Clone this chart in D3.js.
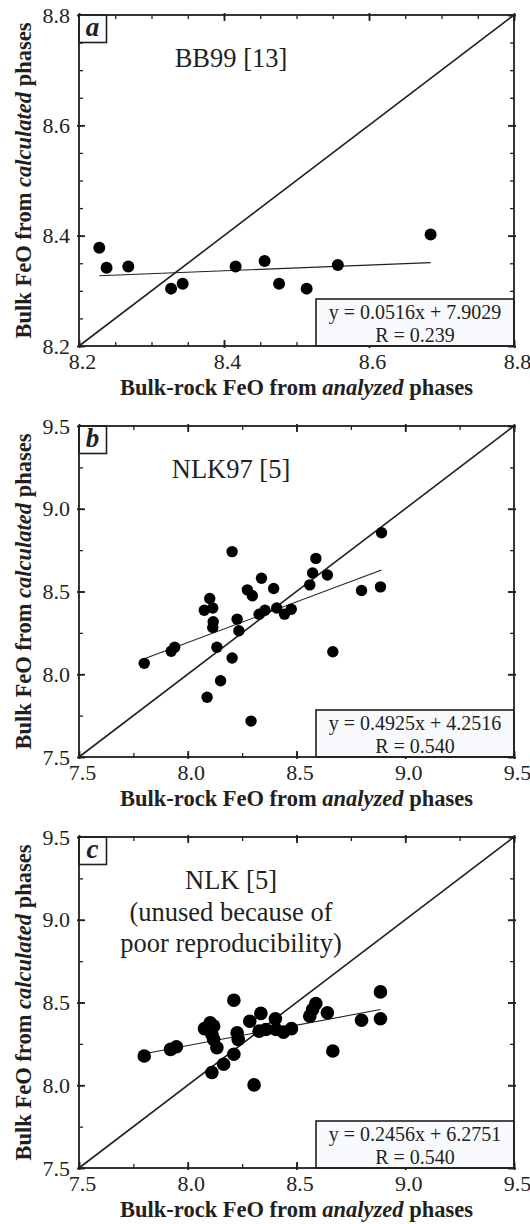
<!DOCTYPE html>
<html>
<head>
<meta charset="utf-8">
<script src="https://cdn.jsdelivr.net/npm/d3@7"></script>
<style>
  body { margin: 0; background: #fff; }
  svg text { font-family: "Liberation Serif", "Times New Roman", serif; fill: #231f20; }
</style>
</head>
<body>
<svg id="chart" width="530" height="1224"></svg>
<script>
// 資料：[analyzed, calculated]
const bb99Points = [
  [8.228, 8.378], [8.238, 8.342], [8.268, 8.344], [8.327, 8.304],
  [8.343, 8.313], [8.416, 8.344], [8.456, 8.354], [8.476, 8.313],
  [8.514, 8.304], [8.557, 8.347], [8.685, 8.402]
];
const nlk97Points = [
  [7.800, 8.066], [7.924, 8.139], [7.940, 8.163], [8.076, 8.387],
  [8.101, 8.458], [8.115, 8.400], [8.117, 8.317], [8.115, 8.283],
  [8.134, 8.163], [8.204, 8.741], [8.204, 8.098], [8.151, 7.961],
  [8.089, 7.861], [8.227, 8.333], [8.235, 8.263], [8.274, 8.510],
  [8.297, 8.474], [8.339, 8.580], [8.291, 7.717], [8.328, 8.363],
  [8.355, 8.387], [8.395, 8.518], [8.409, 8.400], [8.445, 8.363],
  [8.476, 8.393], [8.561, 8.540], [8.574, 8.612], [8.589, 8.700],
  [8.642, 8.600], [8.667, 8.136], [8.799, 8.506], [8.886, 8.528],
  [8.891, 8.855]
];
const nlkPoints = [
  [7.800, 8.177], [7.921, 8.217], [7.948, 8.233], [8.077, 8.342],
  [8.103, 8.378], [8.119, 8.357], [8.111, 8.307], [8.119, 8.277],
  [8.134, 8.227], [8.212, 8.514], [8.227, 8.317], [8.232, 8.277],
  [8.212, 8.187], [8.165, 8.127], [8.111, 8.077], [8.305, 8.002],
  [8.285, 8.387], [8.336, 8.434], [8.328, 8.327], [8.359, 8.337],
  [8.403, 8.402], [8.406, 8.337], [8.440, 8.321], [8.477, 8.342],
  [8.561, 8.418], [8.574, 8.458], [8.589, 8.494], [8.642, 8.438],
  [8.667, 8.207], [8.799, 8.393], [8.886, 8.402], [8.886, 8.564]
];

// 回歸係數
const fitSlopes = [0.0516, 0.4925, 0.2456];
const fitIntercepts = [7.9029, 4.2516, 6.2751];
const fitEquations = ["y = 0.0516x + 7.9029", "y = 0.4925x + 4.2516", "y = 0.2456x + 6.2751"];
const fitR = ["R = 0.239", "R = 0.540", "R = 0.540"];

// 軸刻度
const domainsAll = [[8.2, 8.8], [7.5, 9.5], [7.5, 9.5]];
const labelTicks = [[8.2, 8.4, 8.6, 8.8], [7.5, 8.0, 8.5, 9.0, 9.5], [7.5, 8.0, 8.5, 9.0, 9.5]];
const tickLabelText = [["8.2", "8.4", "8.6", "8.8"], ["7.5", "8.0", "8.5", "9.0", "9.5"], ["7.5", "8.0", "8.5", "9.0", "9.5"]];
const minorSteps = [0.05, 0.25, 0.25];

const panelLetters = ["a", "b", "c"];
const panelNotes = [["BB99 [13]"], ["NLK97 [5]"], ["NLK [5]", "(unused because of", "poor reproducibility)"]];

const ink = "#231f20";
const left = 79, right = 514, plotH = 331;
const panelTops = [15, 426, 837];
const dotRadius = [6, 5.7, 6.8];

const svg = d3.select("#chart");

[bb99Points, nlk97Points, nlkPoints].forEach((pts, i) => drawPanel(i, pts));

function drawPanel(i, pts) {
  const top = panelTops[i];
  const bottom = top + plotH;
  const dom = domainsAll[i];
  const x = d3.scaleLinear().domain(dom).range([left, right]);
  const y = d3.scaleLinear().domain(dom).range([bottom, top]);
  const g = svg.append("g");

  const minor = d3.range(dom[0], dom[1] + 1e-9, minorSteps[i]).map((v) => +v.toFixed(3));

  // 刻度（朝內）
  const tickAxes = [
    [d3.axisBottom(x), `translate(0,${bottom})`, -1],
    [d3.axisTop(x), `translate(0,${top})`, -1],
    [d3.axisLeft(y), `translate(${left},0)`, -1],
    [d3.axisRight(y), `translate(${right},0)`, -1]
  ];
  tickAxes.forEach(([ax, tr]) => {
    g.append("g")
      .attr("transform", tr)
      .call(ax.tickValues(minor).tickSize(-4).tickFormat(""))
      .call((s) => s.select(".domain").remove())
      .selectAll(".tick line")
      .attr("stroke", ink)
      .attr("stroke-width", 1.3);
    g.append("g")
      .attr("transform", tr)
      .call(ax.tickValues(labelTicks[i]).tickSize(-6).tickFormat(""))
      .call((s) => s.select(".domain").remove())
      .selectAll(".tick line")
      .attr("stroke", ink)
      .attr("stroke-width", 1.8)
      .each(function () {
        const l = d3.select(this);
        if (l.attr("y2") !== null) l.attr("y1", l.attr("y2") > 0 ? -2 : 2);
        else l.attr("x1", l.attr("x2") > 0 ? -2 : 2);
      });
  });

  // 刻度標籤
  const fmt = (v) => tickLabelText[i][labelTicks[i].indexOf(v)];
  g.append("g")
    .attr("transform", `translate(0,${bottom})`)
    .call(d3.axisBottom(x).tickValues(labelTicks[i]).tickSize(0).tickPadding(7).tickFormat(fmt))
    .call((s) => s.select(".domain").remove())
    .attr("font-family", null)
    .attr("font-size", 22)
    .selectAll("text")
    .attr("dx", 3);
  g.append("g")
    .attr("transform", `translate(${left},0)`)
    .call(d3.axisLeft(y).tickValues(labelTicks[i]).tickSize(0).tickPadding(9).tickFormat(fmt))
    .call((s) => s.select(".domain").remove())
    .attr("font-family", null)
    .attr("font-size", 22);

  // 1:1 線
  g.append("line")
    .attr("x1", x(dom[0])).attr("y1", y(dom[0]))
    .attr("x2", x(dom[1])).attr("y2", y(dom[1]))
    .attr("stroke", ink).attr("stroke-width", 1.6);

  // 回歸線
  const xExt = d3.extent(pts, (d) => d[0]);
  const fit = (v) => fitSlopes[i] * v + fitIntercepts[i];
  g.append("line")
    .attr("x1", x(xExt[0])).attr("y1", y(fit(xExt[0])))
    .attr("x2", x(xExt[1])).attr("y2", y(fit(xExt[1])))
    .attr("stroke", ink).attr("stroke-width", 1.1);

  // 資料點
  g.append("g")
    .selectAll("circle")
    .data(pts)
    .join("circle")
    .attr("cx", (d) => x(d[0]))
    .attr("cy", (d) => y(d[1]))
    .attr("r", dotRadius[i])
    .attr("fill", "#000");

  // 註解文字
  g.append("text")
    .attr("x", 231)
    .attr("y", top + 52)
    .attr("text-anchor", "middle")
    .attr("font-size", 26.5)
    .selectAll("tspan")
    .data(panelNotes[i])
    .join("tspan")
    .attr("x", 231)
    .attr("dy", (d, k) => (k === 0 ? 0 : 31.5))
    .text((d) => d);

  // 方程式框
  const boxW = 198, boxH = 47;
  g.append("rect")
    .attr("x", right - boxW).attr("y", bottom - boxH)
    .attr("width", boxW).attr("height", boxH)
    .attr("fill", "#f8fafd").attr("stroke", ink).attr("stroke-width", 1.6);
  g.append("text")
    .attr("x", right - boxW / 2).attr("y", bottom - boxH + 20)
    .attr("text-anchor", "middle").attr("font-size", 20)
    .text(fitEquations[i]);
  g.append("text")
    .attr("x", right - boxW / 2).attr("y", bottom - boxH + 43)
    .attr("text-anchor", "middle").attr("font-size", 20)
    .text(fitR[i]);

  // 面板字母
  g.append("rect")
    .attr("x", left).attr("y", top)
    .attr("width", 27.5).attr("height", 27.5)
    .attr("fill", "#fbfcfe").attr("stroke", ink).attr("stroke-width", 1.6);
  g.append("text")
    .attr("x", left + 13.5).attr("y", top + 21)
    .attr("text-anchor", "middle")
    .attr("font-size", 27).attr("font-weight", "bold").attr("font-style", "italic")
    .text(panelLetters[i]);

  // 外框
  g.append("rect")
    .attr("x", left).attr("y", top)
    .attr("width", right - left).attr("height", plotH)
    .attr("fill", "none").attr("stroke", ink).attr("stroke-width", 1.8);

  // 軸標題
  const xt = g.append("text")
    .attr("x", (left + right) / 2).attr("y", bottom + 49)
    .attr("text-anchor", "middle").attr("font-size", 22.5).attr("font-weight", "bold");
  xt.append("tspan").text("Bulk-rock FeO from ");
  xt.append("tspan").attr("font-style", "italic").text("analyzed");
  xt.append("tspan").text(" phases");

  const yt = g.append("text")
    .attr("transform", `translate(31,${(top + bottom) / 2}) rotate(-90)`)
    .attr("text-anchor", "middle").attr("font-size", 22.5).attr("font-weight", "bold");
  yt.append("tspan").text("Bulk FeO from ");
  yt.append("tspan").attr("font-style", "italic").text("calculated");
  yt.append("tspan").text(" phases");
}
</script>
</body>
</html>
